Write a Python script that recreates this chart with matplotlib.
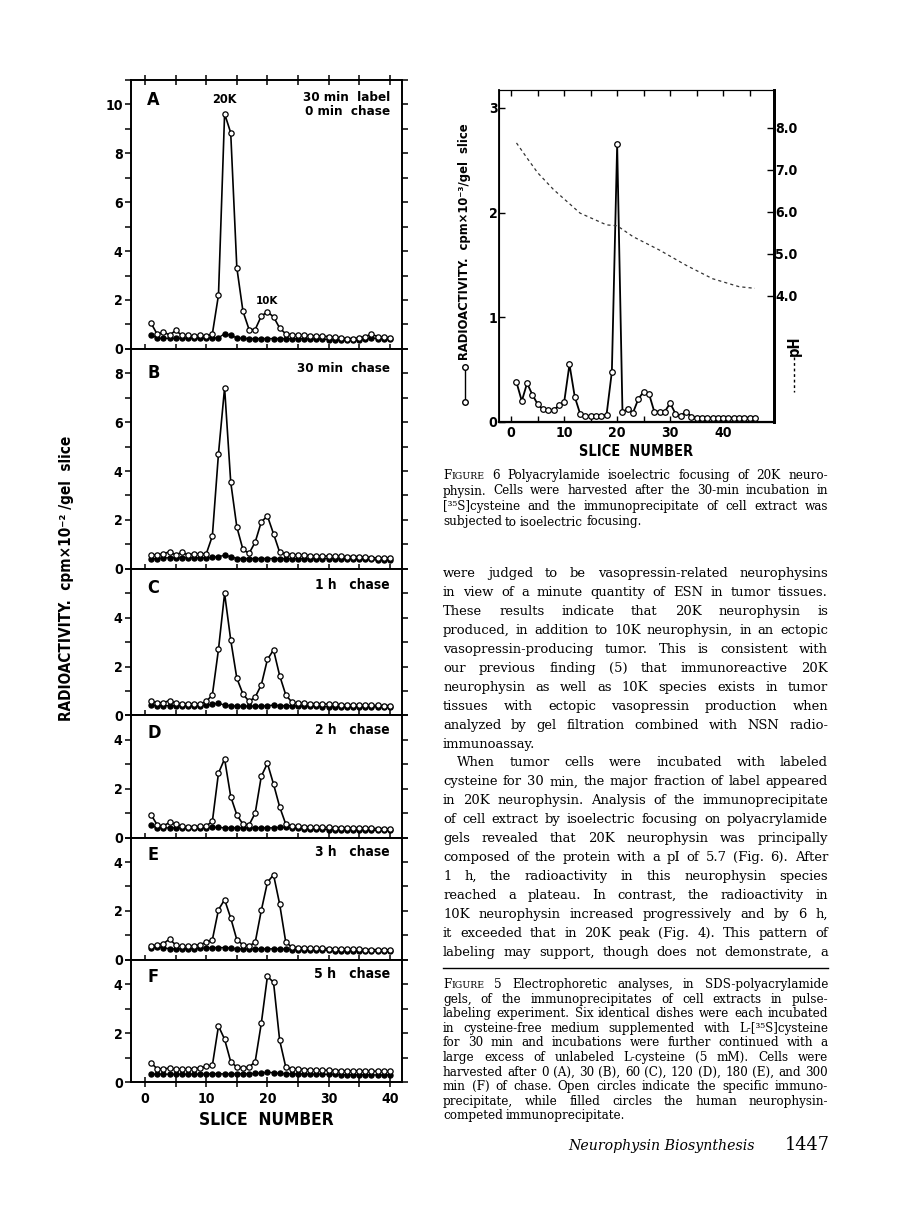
import numpy as np
import matplotlib
matplotlib.use("Agg")
import matplotlib.pyplot as plt
from matplotlib import font_manager as fm
from matplotlib.lines import Line2D
from matplotlib.ticker import MultipleLocator

W, H = 898, 1228

# pick the narrowest bold sans that is installed
installed = {(f.name, f.stretch) for f in fm.fontManager.ttflist}
names = {n for n, _ in installed}
STRETCH = "normal"
if "Liberation Sans Narrow" in names:
    SANS = ["Liberation Sans Narrow", "DejaVu Sans"]
elif ("DejaVu Sans", "condensed") in installed:
    SANS = ["DejaVu Sans"]
    STRETCH = "condensed"
elif "Roboto" in names:
    SANS = ["Roboto", "DejaVu Sans"]
else:
    SANS = ["DejaVu Sans"]
SERIF = ["DejaVu Serif"]

# ---- Figure 5 data (slice 1..40), cpm x 10^-2 / gel slice
slices = np.arange(1, 41)
A_open = [1.04, 0.59, 0.70, 0.56, 0.75, 0.56, 0.56, 0.52, 0.56, 0.52, 0.61, 2.20, 9.62, 8.84, 3.32, 1.54, 0.79, 0.79, 1.34, 1.51,
          1.31, 0.85, 0.61, 0.58, 0.56, 0.55, 0.54, 0.53, 0.52, 0.50, 0.48, 0.45, 0.42, 0.42, 0.45, 0.50, 0.60, 0.50, 0.48, 0.45]
A_filled = [0.58, 0.43, 0.43, 0.43, 0.43, 0.43, 0.43, 0.43, 0.43, 0.43, 0.45, 0.45, 0.62, 0.55, 0.45, 0.43, 0.42, 0.42, 0.42, 0.42,
            0.42, 0.42, 0.42, 0.42, 0.42, 0.42, 0.40, 0.40, 0.40, 0.38, 0.36, 0.35, 0.35, 0.35, 0.36, 0.40, 0.45, 0.42, 0.42, 0.42]
B_open = [0.57, 0.57, 0.61, 0.70, 0.57, 0.67, 0.57, 0.61, 0.61, 0.61, 1.34, 4.71, 7.41, 3.55, 1.71, 0.79, 0.63, 1.09, 1.92, 2.16,
          1.43, 0.68, 0.61, 0.58, 0.56, 0.55, 0.54, 0.53, 0.52, 0.52, 0.51, 0.51, 0.50, 0.50, 0.50, 0.48, 0.46, 0.44, 0.44, 0.45]
B_filled = [0.42, 0.42, 0.45, 0.45, 0.45, 0.45, 0.45, 0.45, 0.45, 0.45, 0.47, 0.50, 0.55, 0.50, 0.42, 0.42, 0.42, 0.42, 0.42, 0.42,
            0.42, 0.42, 0.42, 0.42, 0.42, 0.42, 0.42, 0.42, 0.42, 0.42, 0.42, 0.40, 0.40, 0.40, 0.40, 0.38, 0.38, 0.36, 0.36, 0.36]
C_open = [0.58, 0.52, 0.52, 0.61, 0.50, 0.48, 0.48, 0.47, 0.47, 0.57, 0.84, 2.70, 4.99, 3.09, 1.52, 0.88, 0.57, 0.75, 1.25, 2.29,
          2.68, 1.63, 0.84, 0.54, 0.50, 0.49, 0.48, 0.48, 0.47, 0.46, 0.45, 0.44, 0.43, 0.43, 0.42, 0.42, 0.41, 0.41, 0.40, 0.40]
C_filled = [0.42, 0.40, 0.40, 0.40, 0.40, 0.40, 0.40, 0.40, 0.40, 0.42, 0.46, 0.50, 0.42, 0.40, 0.38, 0.38, 0.38, 0.38, 0.38, 0.40,
            0.42, 0.40, 0.40, 0.40, 0.38, 0.38, 0.38, 0.37, 0.36, 0.36, 0.35, 0.35, 0.35, 0.35, 0.35, 0.35, 0.35, 0.35, 0.35, 0.35]
D_open = [0.93, 0.51, 0.48, 0.62, 0.55, 0.46, 0.45, 0.45, 0.46, 0.48, 0.66, 2.64, 3.22, 1.68, 0.93, 0.55, 0.52, 1.00, 2.51, 3.04,
          2.19, 1.26, 0.55, 0.48, 0.46, 0.45, 0.44, 0.43, 0.42, 0.42, 0.41, 0.41, 0.40, 0.40, 0.40, 0.40, 0.38, 0.37, 0.36, 0.36]
D_filled = [0.50, 0.40, 0.40, 0.40, 0.40, 0.40, 0.40, 0.40, 0.40, 0.40, 0.42, 0.42, 0.40, 0.40, 0.40, 0.40, 0.40, 0.40, 0.40, 0.40,
            0.40, 0.42, 0.42, 0.40, 0.38, 0.36, 0.35, 0.34, 0.34, 0.33, 0.33, 0.32, 0.32, 0.32, 0.31, 0.31, 0.30, 0.30, 0.30, 0.30]
E_open = [0.57, 0.61, 0.66, 0.85, 0.61, 0.55, 0.55, 0.57, 0.62, 0.72, 0.82, 2.05, 2.46, 1.71, 0.82, 0.61, 0.57, 0.71, 2.02, 3.17,
          3.48, 2.28, 0.72, 0.52, 0.50, 0.49, 0.48, 0.48, 0.47, 0.46, 0.45, 0.45, 0.44, 0.43, 0.43, 0.42, 0.42, 0.41, 0.41, 0.40]
E_filled = [0.50, 0.52, 0.50, 0.45, 0.45, 0.45, 0.45, 0.46, 0.48, 0.48, 0.50, 0.50, 0.50, 0.48, 0.45, 0.44, 0.44, 0.44, 0.45, 0.45,
            0.45, 0.45, 0.44, 0.42, 0.42, 0.41, 0.40, 0.40, 0.40, 0.39, 0.38, 0.38, 0.37, 0.37, 0.36, 0.36, 0.35, 0.35, 0.35, 0.35]
F_open = [0.78, 0.53, 0.53, 0.57, 0.52, 0.52, 0.52, 0.55, 0.57, 0.64, 0.68, 2.29, 1.75, 0.83, 0.61, 0.57, 0.61, 0.83, 2.40, 4.32,
          4.08, 1.71, 0.61, 0.54, 0.52, 0.51, 0.50, 0.49, 0.48, 0.48, 0.47, 0.46, 0.45, 0.45, 0.45, 0.44, 0.44, 0.44, 0.43, 0.43]
F_filled = [0.33, 0.32, 0.32, 0.32, 0.32, 0.32, 0.32, 0.32, 0.32, 0.33, 0.34, 0.34, 0.33, 0.33, 0.33, 0.34, 0.34, 0.35, 0.37, 0.40,
            0.38, 0.35, 0.34, 0.34, 0.33, 0.33, 0.32, 0.32, 0.32, 0.31, 0.31, 0.30, 0.30, 0.30, 0.30, 0.30, 0.29, 0.29, 0.29, 0.29]

panel_letters = ["A", "B", "C", "D", "E", "F"]
panel_notes = ["30 min  label\n0 min  chase", "30 min  chase", "1 h   chase", "2 h   chase", "3 h   chase", "5 h   chase"]
panel_note_widths = [79, 83, 67, 67, 67, 68]
panel_ymax = [11, 9, 6, 5, 5, 5]
panel_yticks = [[0, 2, 4, 6, 8, 10], [0, 2, 4, 6, 8], [0, 2, 4], [0, 2, 4], [0, 2, 4], [0, 2, 4]]
open_series = [A_open, B_open, C_open, D_open, E_open, F_open]
filled_series = [A_filled, B_filled, C_filled, D_filled, E_filled, F_filled]

# ---- Figure 6 data (isoelectric focusing)
iso_slices = np.arange(1, 47)
iso_counts = [0.38, 0.20, 0.37, 0.26, 0.17, 0.12, 0.11, 0.11, 0.16, 0.19, 0.55, 0.24, 0.08, 0.06, 0.055, 0.055, 0.06, 0.07,
              0.48, 2.65, 0.10, 0.12, 0.09, 0.22, 0.29, 0.27, 0.10, 0.10, 0.10, 0.18, 0.08, 0.06, 0.10, 0.05,
              0.04, 0.04, 0.04, 0.04, 0.04, 0.04, 0.04, 0.04, 0.04, 0.04, 0.04, 0.04]
ph_slices = [1, 3, 5, 8, 13, 18, 20, 23, 28, 33, 38, 43, 46]
ph_values = [7.64, 7.28, 6.93, 6.53, 5.97, 5.69, 5.67, 5.41, 5.09, 4.73, 4.41, 4.22, 4.18]

body_lines = [
    "were judged to be vasopressin-related neurophysins",
    "in view of a minute quantity of ESN in tumor tissues.",
    "These results indicate that 20K neurophysin is",
    "produced, in addition to 10K neurophysin, in an ectopic",
    "vasopressin-producing tumor. This is consistent with",
    "our previous finding (5) that immunoreactive 20K",
    "neurophysin as well as 10K species exists in tumor",
    "tissues with ectopic vasopressin production when",
    "analyzed by gel filtration combined with NSN radio-",
    "immunoassay.",
    "When tumor cells were incubated with labeled",
    "cysteine for 30 min, the major fraction of label appeared",
    "in 20K neurophysin. Analysis of the immunoprecipitate",
    "of cell extract by isoelectric focusing on polyacrylamide",
    "gels revealed that 20K neurophysin was principally",
    "composed of the protein with a pI of 5.7 (Fig. 6). After",
    "1 h, the radioactivity in this neurophysin species",
    "reached a plateau. In contrast, the radioactivity in",
    "10K neurophysin increased progressively and by 6 h,",
    "it exceeded that in 20K peak (Fig. 4). This pattern of",
    "labeling may support, though does not demonstrate, a",
]
cap6_lines = [
    "FIGURE 6  Polyacrylamide isoelectric focusing of 20K neuro-",
    "physin. Cells were harvested after the 30-min incubation in",
    "[³⁵S]cysteine and the immunoprecipitate of cell extract was",
    "subjected to isoelectric focusing.",
]
cap5_lines = [
    "FIGURE 5  Electrophoretic analyses, in SDS-polyacrylamide",
    "gels, of the immunoprecipitates of cell extracts in pulse-",
    "labeling experiment. Six identical dishes were each incubated",
    "in cysteine-free medium supplemented with L-[³⁵S]cysteine",
    "for 30 min and incubations were further continued with a",
    "large excess of unlabeled L-cysteine (5 mM). Cells were",
    "harvested after 0 (A), 30 (B), 60 (C), 120 (D), 180 (E), and 300",
    "min (F) of chase. Open circles indicate the specific immuno-",
    "precipitate, while filled circles the human neurophysin-",
    "competed immunoprecipitate.",
]


def fx(x):
    return x / W


def fy(y):
    return 1 - y / H


fig = plt.figure(figsize=(W / 100, H / 100), dpi=100)
fig.patch.set_facecolor("white")
renderer = fig.canvas.get_renderer()


def sans(**kw):
    d = dict(family=SANS, fontweight="bold", fontstretch=STRETCH)
    d.update(kw)
    return d


def fit(t, target):
    bb = t.get_window_extent(renderer)
    t.set_fontsize(t.get_fontsize() * target / max(bb.width, bb.height))
    return t


def style_ticks(labels, size):
    for lab in labels:
        lab.set_family(SANS)
        lab.set_fontweight("bold")
        lab.set_fontstretch(STRETCH)
        lab.set_fontsize(size)


# the original lettering is a condensed face; allow our wider face to run a little longer
WIDE = 1.12
probe = fig.text(0, 0, "30 min  chase", **sans(fontsize=10))
k_sans = 83 * WIDE / probe.get_window_extent(renderer).width * 10 / 11.5
probe.remove()
tick_size = min(11.5, 11.5 * k_sans * 1.05)

# ---------------- Figure 5: stacked panels ----------------
left, right, top, bottom = 131, 402, 80, 1082
gs = fig.add_gridspec(6, 1, left=fx(left), right=fx(right), top=fy(top), bottom=fy(bottom),
                      height_ratios=panel_ymax, hspace=0)
for i in range(6):
    ax = fig.add_subplot(gs[i])
    ax.plot(slices, filled_series[i], "-o", color="black", lw=1.0, ms=3.6, mfc="black", mec="black", zorder=2)
    ax.plot(slices, open_series[i], "-o", color="black", lw=1.2, ms=3.8, mfc="white", mec="black", mew=0.9, zorder=3)
    ax.set_xlim(-2.3, 42)
    ax.set_ylim(0, panel_ymax[i])
    ax.set_yticks(panel_yticks[i])
    ax.yaxis.set_minor_locator(MultipleLocator(1))
    ax.set_xticks(np.arange(0, 41, 5))
    for s in ax.spines.values():
        s.set_linewidth(1.4)
    ax.tick_params(axis="y", which="both", direction="out", length=4, width=1.1, right=True, pad=2)
    ax.tick_params(axis="x", direction="inout", length=7, width=1.1, top=(i == 0))
    if i < 5:
        ax.tick_params(axis="x", labelbottom=False)
    else:
        ax.set_xticklabels(["0", "", "10", "", "20", "", "30", "", "40"])
        xl = ax.set_xlabel("SLICE  NUMBER", **sans(fontsize=12.5), labelpad=4)
        fit(xl, 120 * WIDE)
    style_ticks(ax.get_yticklabels() + ax.get_xticklabels(), tick_size)
    ax.text(0.06, 0.96 if i == 0 else 0.93, panel_letters[i], transform=ax.transAxes, ha="left", va="top",
            **sans(fontsize=13))
    note = ax.text(0.955, 0.958 if i == 0 else 0.94, panel_notes[i], transform=ax.transAxes, ha="right", va="top",
                   **sans(fontsize=11.5), linespacing=1.05)
    fit(note, panel_note_widths[i] * WIDE)
    if i == 0:
        fit(ax.text(13, 9.95, "20K", ha="center", va="bottom", **sans(fontsize=10.5)), 22 * WIDE)
        fit(ax.text(20, 1.75, "10K", ha="center", va="bottom", **sans(fontsize=10.5)), 20 * WIDE)

fit(fig.text(fx(67), fy(578), "RADIOACTIVITY.  cpm×10⁻² /gel  slice", rotation=90, ha="center", va="center",
             **sans(fontsize=12.5)), 285)

# ---------------- Figure 6: isoelectric focusing ----------------
ax6 = fig.add_axes([fx(499), fy(422), fx(774 - 499), (422 - 90) / H])
ax6.plot(iso_slices, iso_counts, "-o", color="black", lw=1.3, ms=4.0, mfc="white", mec="black", mew=0.9, zorder=3)
ax6.set_xlim(-2.3, 49.6)
ax6.set_ylim(0, 3.17)
ax6.set_yticks([0, 1, 2, 3])
ax6.set_xticks([0, 10, 20, 30, 40])
ax6.xaxis.set_minor_locator(MultipleLocator(5))
ax6.tick_params(axis="both", which="both", direction="in", length=4, width=1.0, top=True, pad=3)
ax6.tick_params(axis="y", pad=1)
style_ticks(ax6.get_yticklabels() + ax6.get_xticklabels(), tick_size)
ax6.spines["top"].set_linewidth(0.8)
ax6.spines["left"].set_linewidth(1.3)
ax6.spines["bottom"].set_linewidth(1.6)
ax6.spines["right"].set_linewidth(2.0)
xl6 = ax6.set_xlabel("SLICE  NUMBER", **sans(fontsize=12.5), labelpad=3)
fit(xl6, 101 * WIDE)

ph_ax = ax6.twinx()
ph_ax.plot(ph_slices, ph_values, color="#333333", lw=0.9, ls=(0, (2.5, 2.5)))
ph_ax.set_ylim(1.0, 8.9)
ph_ax.set_yticks([4, 5, 6, 7, 8])
ph_ax.set_yticklabels(["4.0", "5.0", "6.0", "7.0", "8.0"])
ph_ax.tick_params(axis="y", direction="in", length=5, width=1.0, pad=1)
style_ticks(ph_ax.get_yticklabels(), tick_size)
ph_ax.spines["right"].set_linewidth(2.0)

fit(fig.text(fx(464), fy(242), "RADIOACTIVITY.  cpm×10⁻³/gel  slice", rotation=90, ha="center", va="center",
             **sans(fontsize=12)), 236)
fig.add_artist(Line2D([fx(465), fx(465)], [fy(367), fy(402)], transform=fig.transFigure, color="black",
                      lw=1.0, marker="o", ms=4, mfc="white", mec="black"))
fig.text(fx(794), fy(346), "pH", rotation=90, ha="center", va="center", **sans(fontsize=12 * k_sans * 1.05))
fig.add_artist(Line2D([fx(794), fx(794)], [fy(357), fy(392)], transform=fig.transFigure, color="black",
                      lw=1.0, ls=(0, (2, 2))))


# ---------------- justified text blocks ----------------
COL_L, COL_R = 443, 828


def block_size(lines, width, base=10.0):
    widest = 0
    for line in lines:
        t = fig.text(0, 0, line, family=SERIF, fontsize=base)
        widest = max(widest, t.get_window_extent(renderer).width)
        t.remove()
    return base * width / widest


def justify(lines, x0, x1, y0, dy, size, last_idx=(), indent_idx=(), indent=14):
    for k, line in enumerate(lines):
        y = y0 + k * dy
        words = []
        for w in line.split():
            if w == "FIGURE":
                segs = [("F", size), ("IGURE", size * 0.78)]
            else:
                segs = [(w, size)]
            objs = [fig.text(0, fy(y), s, family=SERIF, fontsize=sz, va="baseline", ha="left") for s, sz in segs]
            words.append(objs)
        widths = [sum(o.get_window_extent(renderer).width for o in objs) for objs in words]
        start = x0 + (indent if k in indent_idx else 0)
        if k in last_idx or len(words) == 1:
            gap = size * 0.35
        else:
            gap = (x1 - start - sum(widths)) / (len(words) - 1)
        x = start
        for objs, w in zip(words, widths):
            xx = x
            for o in objs:
                o.set_x(fx(xx))
                xx += o.get_window_extent(renderer).width
            x += w + gap


col_w = COL_R - COL_L
cap_size = block_size(cap5_lines[:-1], col_w - 6)
body_size = block_size(body_lines, col_w - 6)
justify(cap6_lines, COL_L, COL_R, 479, 15.5, cap_size, last_idx=(3,))
justify(body_lines, COL_L, COL_R, 577, 18.95, body_size, last_idx=(9,), indent_idx=(10,))
fig.add_artist(Line2D([fx(COL_L), fx(COL_R)], [fy(968), fy(968)], transform=fig.transFigure, color="black", lw=1.0))
justify(cap5_lines, COL_L, COL_R, 988, 14.6, cap_size, last_idx=(9,))

fit(fig.text(fx(568), fy(1150), "Neurophysin Biosynthesis", ha="left", va="baseline", family=SERIF,
             style="italic", fontsize=11), 187)
fit(fig.text(fx(830), fy(1150), "1447", ha="right", va="baseline", family=SERIF, fontsize=11.5), 45)

fig.savefig("out.png", dpi=100)
